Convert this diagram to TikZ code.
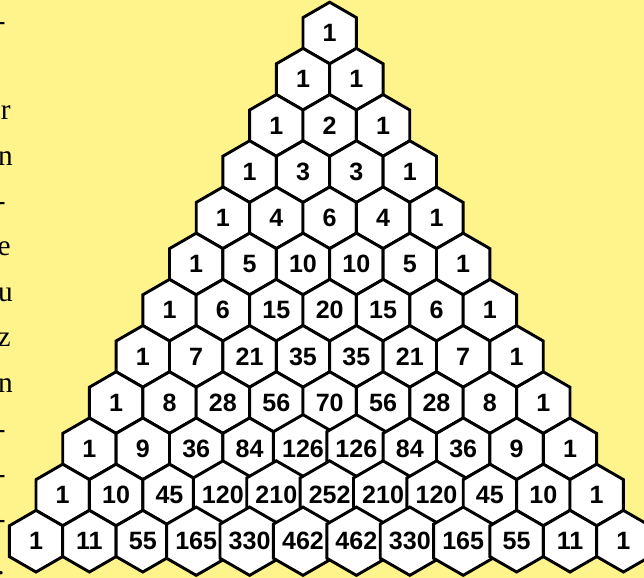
\documentclass[tikz,border=0pt]{standalone}
\usepackage{fontspec}
\setmainfont{Liberation Serif}
\setsansfont{Liberation Sans}
\usepackage{tikz}
\usetikzlibrary{shapes.geometric}
\definecolor{giallino}{HTML}{FFF38C}

\begin{document}
\begin{tikzpicture}[x=0.75pt, y=-0.75pt,
                % Stile delle celle esagonali del triangolo
                esagono/.style={
                    draw,
                    fill=white,
                    regular polygon,
                    regular polygon sides=6,
                    shape border rotate=30,
                    minimum size=46.2pt,
                    inner sep=0pt,
                    line width=2.2pt,
                    font=\sffamily\bfseries\fontsize{18.8}{20}\selectfont
                },
                % Stile per i pezzi di testo tagliati sul bordo sinistro
                frammento/.style={
                    anchor=base east,
                    inner sep=0pt,
                    font=\fontsize{22}{24}\selectfont
                }
            ]

                % 1. Sfondo giallo, grande quanto la figura
                \useasboundingbox (0,0) rectangle (644,578);
                \fill [giallino] (0,0) rectangle (644,578);
                \clip (0,0) rectangle (644,578);

                % 2. Resti della colonna di testo a sinistra
                \foreach \testo/\xx/\yy [count=\i] in {-/6/31, r/11/119, n/13/165, -/6/210, e/11/255, u/13/301, z/11/346, n/13/392, -/6/438, -/6/483, -/6/528, ./5/574} {
                    \node [frammento] (t-\i) at (\xx,\yy) {\testo};
                }

                % 3. Le righe del triangolo, una cella per coefficiente
                \foreach \riga [count=\r from 0] in {{1},{1,1},{1,2,1},{1,3,3,1},{1,4,6,4,1},{1,5,10,10,5,1},{1,6,15,20,15,6,1},{1,7,21,35,35,21,7,1},{1,8,28,56,70,56,28,8,1},{1,9,36,84,126,126,84,36,9,1},{1,10,45,120,210,252,210,120,45,10,1},{1,11,55,165,330,462,462,330,165,55,11,1}} {
                    \foreach \val [count=\k from 0] in \riga {
                        \node [esagono] (h-\r-\k) at ({329.7+(\k-\r/2)*53.4},{33+\r*46.2}) {\val};
                    }
                }

            \end{tikzpicture}
\end{document}
